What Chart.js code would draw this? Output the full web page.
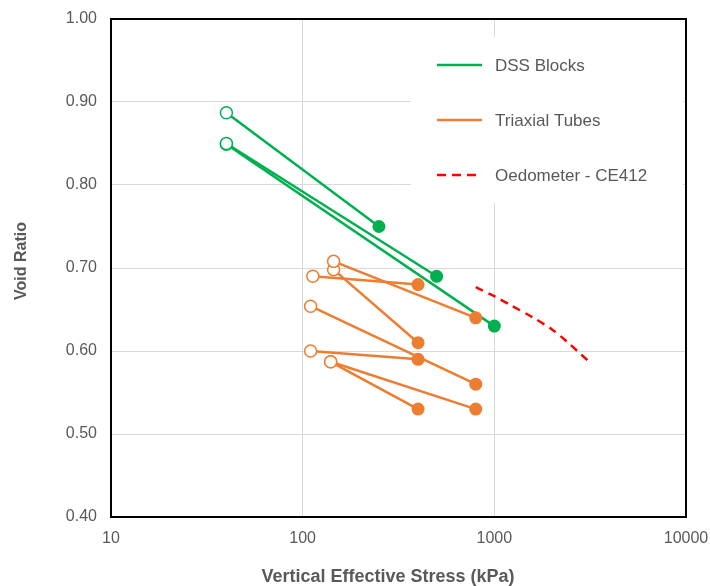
<!DOCTYPE html>
<html>
<head>
<meta charset="utf-8">
<script src="https://cdn.jsdelivr.net/npm/chart.js@4/dist/chart.umd.min.js"></script>
<style>
  html, body { margin: 0; padding: 0; background: #fff; }
  #wrap { width: 710px; height: 586px; }
</style>
</head>
<body>
<div id="wrap"><canvas id="chart" width="710" height="586"></canvas></div>
<script>
// values
const xTicks = [10, 100, 1000, 10000];
const yTicks = [0.4, 0.5, 0.6, 0.7, 0.8, 0.9, 1.0];

const dssStressOpen = [40, 40, 40];
const dssVoidOpen = [0.887, 0.850, 0.849];
const dssStressEnd = [250, 500, 1000];
const dssVoidEnd = [0.750, 0.690, 0.630];

const triaxStressOpen = [145, 145, 113, 110, 110, 140, 140];
const triaxVoidOpen = [0.708, 0.698, 0.690, 0.654, 0.600, 0.587, 0.587];
const triaxStressEnd = [800, 400, 400, 800, 400, 400, 800];
const triaxVoidEnd = [0.640, 0.610, 0.680, 0.560, 0.590, 0.530, 0.530];

const oedStress = [800, 1000, 1200, 1600, 2000, 2400, 2800, 3200];
const oedVoid = [0.677, 0.666, 0.656, 0.640, 0.626, 0.611, 0.597, 0.585];

const GREEN = '#00B050';
const ORANGE = '#ED7D31';
const RED = '#FF0000';
const TEXT = '#595959';
const FONT = '"Liberation Sans", Arial, sans-serif';

function segment(color, x0, y0, x1, y1) {
  return {
    data: [{ x: x0, y: y0 }, { x: x1, y: y1 }],
    borderColor: color,
    borderWidth: 2.5,
    pointRadius: [6, 6.5],
    pointBorderWidth: [1.5, 0],
    pointBackgroundColor: ['#ffffff', color],
    pointBorderColor: color,
    showLine: true,
    fill: false
  };
}

const datasets = [];
triaxStressOpen.forEach((s, i) => {
  datasets.push(segment(ORANGE, s, triaxVoidOpen[i], triaxStressEnd[i], triaxVoidEnd[i]));
});
dssStressOpen.forEach((s, i) => {
  datasets.push(segment(GREEN, s, dssVoidOpen[i], dssStressEnd[i], dssVoidEnd[i]));
});
datasets.push({
  data: oedStress.map((s, i) => ({ x: s, y: oedVoid[i] })),
  borderColor: RED,
  borderWidth: 2.5,
  borderDash: [8, 6],
  pointRadius: 0,
  showLine: true,
  fill: false,
  tension: 0.3
});

const legendItems = [
  { label: 'DSS Blocks', color: GREEN, dash: [] },
  { label: 'Triaxial Tubes', color: ORANGE, dash: [] },
  { label: 'Oedometer - CE412', color: RED, dash: [9, 6] }
];

const boxLegend = {
  id: 'boxLegend',
  beforeDatasetsDraw(chart) {
    const ctx = chart.ctx;
    ctx.save();
    ctx.fillStyle = '#ffffff';
    ctx.fillRect(411, 37, 272, 166);
    legendItems.forEach((item, i) => {
      const y = 65 + i * 55;
      ctx.beginPath();
      ctx.setLineDash(item.dash);
      ctx.strokeStyle = item.color;
      ctx.lineWidth = 2.5;
      ctx.moveTo(437, y);
      ctx.lineTo(482, y);
      ctx.stroke();
      ctx.setLineDash([]);
      ctx.fillStyle = TEXT;
      ctx.font = '17px ' + FONT;
      ctx.textBaseline = 'middle';
      ctx.fillText(item.label, 495, y + 1);
    });
    ctx.restore();
  },
  afterDraw(chart) {
    const a = chart.chartArea;
    const ctx = chart.ctx;
    ctx.save();
    ctx.strokeStyle = '#000000';
    ctx.lineWidth = 2;
    ctx.strokeRect(a.left, a.top, a.right - a.left, a.bottom - a.top);

    // axis titles (Excel puts them a little off centre)
    ctx.fillStyle = TEXT;
    ctx.textAlign = 'center';
    ctx.textBaseline = 'middle';
    ctx.font = 'bold 18px ' + FONT;
    ctx.fillText('Vertical Effective Stress (kPa)', 388, 577);
    ctx.translate(22, 261);
    ctx.rotate(-Math.PI / 2);
    ctx.font = 'bold 16px ' + FONT;
    ctx.fillText('Void Ratio', 0, 0);
    ctx.restore();
  }
};

function noPad(s) {
  s.paddingLeft = 0;
  s.paddingRight = 0;
  s.paddingTop = 0;
  s.paddingBottom = 0;
}

new Chart(document.getElementById('chart'), {
  type: 'scatter',
  data: { datasets },
  plugins: [boxLegend],
  options: {
    responsive: false,
    animation: false,
    layout: { padding: { top: 19, right: 24, left: 0, bottom: 0 } },
    plugins: { legend: { display: false }, tooltip: { enabled: false } },
    scales: {
      x: {
        type: 'logarithmic',
        min: 10,
        max: 10000,
        afterBuildTicks: (s) => { s.ticks = xTicks.map((v) => ({ value: v })); },
        afterFit: (s) => { s.height = 69; noPad(s); },
        grid: { color: '#D9D9D9', lineWidth: 1, drawTicks: false },
        border: { display: false },
        ticks: {
          color: TEXT,
          padding: 12,
          font: { family: FONT, size: 16 },
          callback: (v) => String(v)
        },
        title: { display: false }
      },
      y: {
        min: 0.4,
        max: 1.0,
        afterBuildTicks: (s) => { s.ticks = yTicks.map((v) => ({ value: v })); },
        afterFit: (s) => { s.width = 111; noPad(s); },
        grid: { color: '#D9D9D9', lineWidth: 1, drawTicks: false },
        border: { display: false },
        ticks: {
          color: TEXT,
          padding: 14,
          font: { family: FONT, size: 16 },
          callback: (v) => Number(v).toFixed(2)
        },
        title: { display: false }
      }
    }
  }
});
</script>
</body>
</html>
